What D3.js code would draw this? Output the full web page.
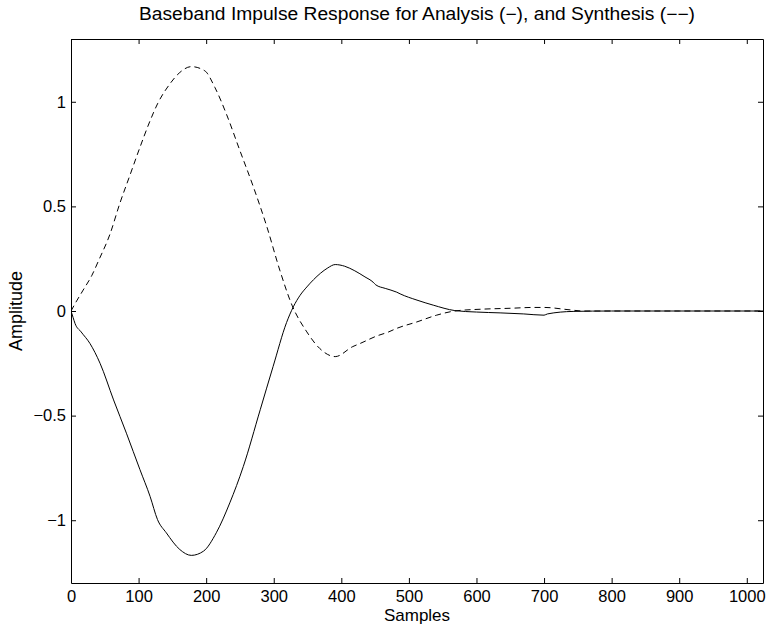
<!DOCTYPE html>
<html><head><meta charset="utf-8">
<script src="https://cdn.jsdelivr.net/npm/d3@7"></script>
<style>body{margin:0;background:#fff}svg{display:block}text{font-family:"Liberation Sans",Arial,Helvetica,sans-serif;fill:#000}</style>
</head><body><svg id="c" width="769" height="630"></svg>
<script>
const titleText = "Baseband Impulse Response for Analysis (−), and Synthesis (−−)";
const xLabel = "Samples";
const yLabel = "Amplitude";
const xTicks = [0,100,200,300,400,500,600,700,800,900,1000];
const yTicks = [-1,-0.5,0,0.5,1];

const analysisN = [0,3,6,15,28,43,63,82,102,117,128,141,161,178,196,215,235,255,280,299,319,329,339,349,359,369,380,391,405,420,435,447,451,465,482,487,512,536,568,600,635,670,700,705,743,800,900,1024];
const analysisV = [0,-0.03,-0.06,-0.1,-0.155,-0.25,-0.425,-0.584,-0.758,-0.886,-0.997,-1.06,-1.14,-1.168,-1.148,-1.06,-0.917,-0.743,-0.472,-0.266,-0.055,0.02,0.075,0.115,0.15,0.18,0.206,0.222,0.214,0.192,0.163,0.138,0.125,0.108,0.09,0.082,0.052,0.028,0.002,-0.005,-0.009,-0.014,-0.02,-0.014,-0.002,0,0,0];

const synthesisN = [0,6,18,31,41,58,72,87,102,117,128,146,161,178,198,213,230,250,270,290,309,327,349,368,391,417,428,452,470,482,512,541,568,610,650,684,701,734,758,800,900,1024];
const synthesisV = [0,0.035,0.1,0.171,0.242,0.37,0.512,0.647,0.782,0.909,0.99,1.084,1.14,1.168,1.148,1.068,0.941,0.766,0.592,0.401,0.195,0.028,-0.1,-0.179,-0.218,-0.17,-0.155,-0.12,-0.1,-0.083,-0.052,-0.02,0,0.009,0.013,0.017,0.017,0.007,0,0,0,0];

const svg = d3.select("#c");
const L=71, R=763, T=39, B=583;
const x = d3.scaleLinear().domain([0,1024]).range([L,R]);
const y = d3.scaleLinear().domain([-1.3,1.3]).range([B,T]);

const line = d3.line().x(d=>x(d[0])).y(d=>y(d[1])).curve(d3.curveMonotoneX);
svg.append("clipPath").attr("id","clip").append("rect").attr("x",L).attr("y",T).attr("width",R-L).attr("height",B-T);

const g = svg.append("g").attr("clip-path","url(#clip)");
g.append("path").datum(analysisN.map((n,i)=>[n,analysisV[i]])).attr("d",line)
 .attr("fill","none").attr("stroke","#000").attr("stroke-width",1);
g.append("path").datum(synthesisN.map((n,i)=>[n,synthesisV[i]])).attr("d",line)
 .attr("fill","none").attr("stroke","#000").attr("stroke-width",1).attr("stroke-dasharray","6,4");

const fmt = d => d<0 ? "−"+Math.abs(d) : String(d);
const bx = svg.append("g").attr("transform",`translate(0,${B})`)
  .call(d3.axisBottom(x).tickValues(xTicks).tickSizeInner(-5).tickSizeOuter(0).tickPadding(7).tickFormat(fmt));
const tx = svg.append("g").attr("transform",`translate(0,${T})`)
  .call(d3.axisTop(x).tickValues(xTicks).tickSizeInner(-5).tickSizeOuter(0).tickFormat(""));
const ly = svg.append("g").attr("transform",`translate(${L},0)`)
  .call(d3.axisLeft(y).tickValues(yTicks).tickSizeInner(-5).tickSizeOuter(0).tickPadding(5).tickFormat(fmt));
const ry = svg.append("g").attr("transform",`translate(${R},0)`)
  .call(d3.axisRight(y).tickValues(yTicks).tickSizeInner(-5).tickSizeOuter(0).tickFormat(""));
[bx,tx,ly,ry].forEach(a=>{
  a.select(".domain").attr("stroke","#000").attr("stroke-width",1);
  a.selectAll(".tick line").attr("stroke","#000");
  a.selectAll("text").attr("font-size",16.5).attr("font-family","Liberation Sans, Arial, sans-serif").attr("fill","#000");
});

svg.append("text").attr("x",(L+R)/2).attr("y",20).attr("text-anchor","middle").attr("font-size",17.5)
  .attr("textLength",556).attr("lengthAdjust","spacingAndGlyphs").text(titleText);
svg.append("text").attr("x",(L+R)/2).attr("y",621).attr("text-anchor","middle").attr("font-size",17).text(xLabel);
svg.append("text").attr("transform",`translate(22,${(T+B)/2}) rotate(-90)`).attr("text-anchor","middle").attr("font-size",18).text(yLabel);
</script></body></html>
